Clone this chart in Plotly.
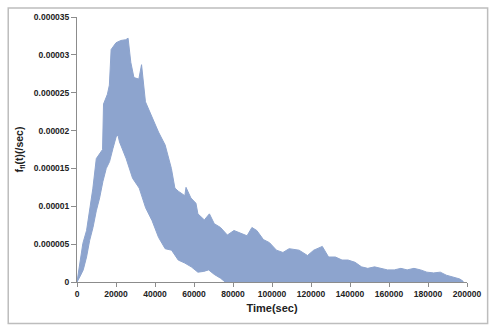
import plotly.graph_objects as go

# Upper envelope of the oscillating series (time in sec, value in /sec)
upper_t = [0, 1500, 3000, 4900, 6500, 8100, 9900, 11600, 13100, 13600, 15600, 16600,
           17500, 20000, 22500, 25000, 26200, 27600, 29200, 31700, 33100, 35100, 38300,
           41800, 45200, 48400, 50200, 51900, 55300, 55900, 58400, 61000, 62000, 65300,
           67900, 70400, 73600, 77100, 80500, 83600, 87200, 89700, 92200, 95600, 98700,
           102300, 105600, 108800, 113900, 118200, 121400, 125800, 129000, 132500,
           135900, 139000, 142600, 145900, 149100, 152600, 156000, 159200, 162700,
           166100, 169300, 172800, 176200, 179400, 182900, 186300, 189400, 193000,
           196300, 198000]
upper_v = [0, 2.5e-6, 5.1e-6, 6.8e-6, 9.4e-6, 12.3e-6, 16.3e-6, 17.0e-6, 17.5e-6, 23.5e-6,
           24.8e-6, 26.0e-6, 30.7e-6, 31.6e-6, 31.9e-6, 32.0e-6, 32.2e-6, 29.0e-6, 27.0e-6,
           26.8e-6, 28.7e-6, 23.8e-6, 21.8e-6, 19.8e-6, 18.1e-6, 15.0e-6, 12.4e-6, 12.0e-6,
           11.4e-6, 12.5e-6, 11.1e-6, 10.4e-6, 9.0e-6, 8.2e-6, 9.0e-6, 7.7e-6, 7.2e-6,
           6.2e-6, 6.8e-6, 6.5e-6, 6.1e-6, 7.2e-6, 6.8e-6, 5.6e-6, 5.2e-6, 4.2e-6, 3.9e-6,
           4.4e-6, 4.2e-6, 3.5e-6, 4.2e-6, 4.7e-6, 3.3e-6, 3.3e-6, 2.9e-6, 2.9e-6, 2.6e-6,
           2.0e-6, 1.8e-6, 2.0e-6, 1.8e-6, 1.6e-6, 1.6e-6, 1.8e-6, 1.6e-6, 1.8e-6, 1.6e-6,
           1.3e-6, 1.2e-6, 1.3e-6, 0.9e-6, 0.65e-6, 0.4e-6, 0.1e-6]

# Lower envelope
lower_t = [0, 1500, 3200, 4900, 6500, 8200, 9900, 11600, 13300, 15000, 16700, 18400,
           20100, 21000, 21800, 25200, 28500, 31900, 35200, 38500, 41800, 45200, 48500,
           51900, 55300, 58600, 62000, 65000, 67500, 70400, 73600, 76000, 198000]
lower_v = [0, 0.7e-6, 1.6e-6, 3.3e-6, 5.5e-6, 7.2e-6, 9.4e-6, 11.1e-6, 13.3e-6, 15.0e-6,
           15.9e-6, 17.6e-6, 19.2e-6, 19.4e-6, 18.5e-6, 16.3e-6, 13.7e-6, 12.4e-6, 9.8e-6,
           8.1e-6, 5.9e-6, 4.4e-6, 4.2e-6, 2.9e-6, 2.5e-6, 2.0e-6, 1.3e-6, 1.4e-6, 1.6e-6,
           1.0e-6, 0.5e-6, 0, 0]

x_ticks = [0, 20000, 40000, 60000, 80000, 100000, 120000, 140000, 160000, 180000, 200000]
y_ticks = [0, 0.000005, 0.00001, 0.000015, 0.00002, 0.000025, 0.00003, 0.000035]
y_labels = ["0", "0.000005", "0.00001", "0.000015", "0.00002", "0.000025", "0.00003", "0.000035"]

color = "#8DA4CE"
poly_x = upper_t + lower_t[::-1]
poly_y = upper_v + lower_v[::-1]

fig = go.Figure()
fig.add_trace(go.Scatter(x=poly_x, y=poly_y, mode="lines", fill="toself",
                         fillcolor=color, line=dict(color=color, width=1),
                         hoverinfo="skip", showlegend=False))

tickfont = dict(family="Liberation Sans, Arial, sans-serif", size=8.5, color="#222222", weight="bold")
axcol = "#8C8C8C"
fig.update_layout(
    width=493, height=327,
    margin=dict(l=77, r=19, t=14, b=45),
    paper_bgcolor="white", plot_bgcolor="white",
    showlegend=False,
    xaxis=dict(range=[0, 200000], tickvals=x_ticks, ticktext=[str(v) for v in x_ticks],
               showgrid=False, zeroline=False, showline=True, linecolor=axcol, linewidth=1,
               ticks="outside", ticklen=4, tickcolor=axcol, tickfont=tickfont,
               title=dict(text="Time(sec)", standoff=6,
                          font=dict(family="Liberation Sans, Arial, sans-serif", size=11,
                                    color="#222222", weight="bold"))),
    yaxis=dict(range=[0, 0.000035], tickvals=y_ticks, ticktext=y_labels,
               showgrid=False, zeroline=False, showline=True, linecolor=axcol, linewidth=1,
               ticks="outside", ticklen=5, tickcolor=axcol, tickfont=tickfont,
               title=dict(text="f<sub>fl</sub>(t)(/sec)", standoff=8,
                          font=dict(family="Liberation Sans, Arial, sans-serif", size=10.5,
                                    color="#222222", weight="bold"))),
    shapes=[dict(type="rect", xref="paper", yref="paper",
                 x0=(7 - 77) / 397, x1=(495 - 77) / 397,
                 y0=(282 - 324) / 268, y1=(282 - 5) / 268,
                 line=dict(color="#BDBDBD", width=1.5), fillcolor="rgba(0,0,0,0)",
                 layer="below")],
)

fig.write_html("out.html")
